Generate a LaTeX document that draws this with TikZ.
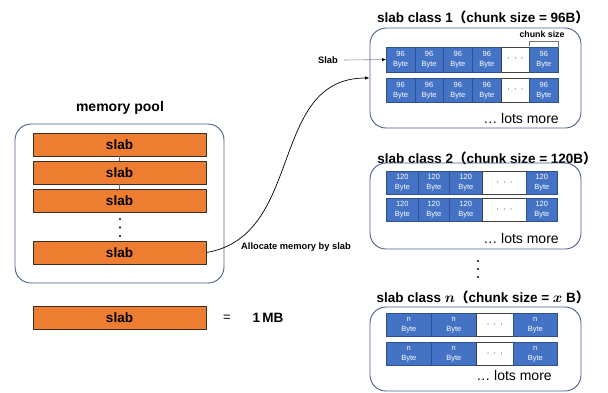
\documentclass[tikz,border=0pt]{standalone}
\usepackage{fontspec}
\setmainfont{Liberation Sans}
\newfontfamily\cjk{Noto Sans CJK SC}
\usetikzlibrary{arrows.meta}
\definecolor{boxline}{RGB}{74,96,138}
\definecolor{slaborange}{RGB}{237,125,49}
\definecolor{slabedge}{RGB}{60,45,35}
\definecolor{cellblue}{RGB}{68,114,196}
\definecolor{celledge}{RGB}{47,82,143}
\tikzset{
  groupbox/.style={draw=boxline, line width=0.9pt, rounded corners=16pt, inner sep=0pt},
  slabbox/.style={draw=slabedge, fill=slaborange, line width=0.8pt, minimum width=173pt, minimum height=23pt, inner sep=0pt, font=\fontsize{13.5}{14}\selectfont\bfseries},
  cellb/.style={draw=celledge, fill=cellblue, line width=0.6pt, text=white, align=center, inner sep=0pt, anchor=north west, font=\fontsize{7.5}{10}\selectfont},
  cellw/.style={draw=black!75, fill=white, line width=0.8pt, align=center, inner sep=0pt, anchor=north west, font=\fontsize{7.5}{10}\selectfont},
  title/.style={font=\fontsize{13.5}{15}\selectfont\bfseries, inner sep=0pt},
  more/.style={font=\fontsize{14}{15}\selectfont, inner sep=0pt},
  small/.style={font=\fontsize{9.3}{10}\selectfont\bfseries, inner sep=0pt},
  dotmark/.style={fill=black, circle, inner sep=0pt, minimum size=2.2pt},
}
\begin{document}
\begin{tikzpicture}[x=1pt, y=-1pt]
\useasboundingbox (0,0) rectangle (608,392);

% memory pool
\node[title, font=\fontsize{14}{15}\selectfont\bfseries] (pooltitle) at (120,108) {memory pool};
\node[groupbox, minimum width=209pt, minimum height=159pt] (pool) at (119.5,203.5) {};
\node[slabbox] (s1) at (119.5,144.5) {slab};
\node[slabbox] (s2) at (119.5,172.5) {slab};
\node[slabbox] (s3) at (119.5,200.5) {slab};
\node[slabbox] (s4) at (119.5,252.5) {slab};
\draw[black!60, line width=0.6pt] (s1.south) -- (s2.north);
\draw[black!60, line width=0.6pt] (s2.south) -- (s3.north);
\node[dotmark] (pd1) at (120,219) {};
\node[dotmark] (pd2) at (120,227.5) {};
\node[dotmark] (pd3) at (120,236) {};

% legend
\node[slabbox] (s5) at (119.5,317.5) {slab};
\node[font=\fontsize{13}{14}\selectfont, inner sep=0pt] (eq) at (227,318) {=};
\node[font=\fontsize{13.5}{14}\selectfont\bfseries, inner sep=0pt] (mb) at (268,318) {1\,MB};

% slab class 1
\node[title] (t1) at (483,17) {slab class 1{\cjk （}chunk size = 96B{\cjk ）}};
\node[groupbox, minimum width=211pt, minimum height=100pt] (b1) at (475.5,78) {};
\foreach \x/\w/\s/\t [count=\i] in {386/28.5/cellb/{96\\Byte},414.5/28.5/cellb/{96\\Byte},443/29/cellb/{96\\Byte},472/29/cellb/{96\\Byte},501/28/cellw/{·\ \ ·\ \ ·},529/29/cellb/{96\\Byte}}{
  \node[\s, minimum width=\w pt, minimum height=24.5pt] (a1c\i) at (\x,47) {\t};
  \node[\s, minimum width=\w pt, minimum height=24pt] (a2c\i) at (\x,78) {\t};
}
\node[small] (slablbl) at (328,60) {Slab};
\draw[black!45, line width=0.6pt, -{Latex[length=4pt, width=3.5pt, black]}] (slablbl.east) ++(6,0) -- (a1c1.west);
\node[small, font=\fontsize{8.8}{10}\selectfont\bfseries] (cs) at (542,34) {chunk size};
\draw[black!55, line width=0.7pt] (a1c6.north west) ++(0,-1) -- ++(0,-5) -| ([yshift=-1pt]a1c6.north east);
\draw[black!55, line width=0.7pt] ([yshift=-6pt]a1c6.north) -- ++(0,-3);
\node[more] (m1) at (521,118) {… lots more};

% slab class 2
\node[title] (t2) at (487,158) {slab class 2{\cjk （}chunk size = 120B{\cjk ）}};
\node[groupbox, minimum width=211pt, minimum height=86pt] (b2) at (475.5,206) {};
\foreach \x/\w/\s/\t [count=\i] in {386/32/cellb/{120\\Byte},418/31/cellb/{120\\Byte},449/33/cellb/{120\\Byte},482/44/cellw/{·\ \ ·\ \ ·},526/31/cellb/{120\\Byte}}{
  \node[\s, minimum width=\w pt, minimum height=23pt] (b1c\i) at (\x,171) {\t};
  \node[\s, minimum width=\w pt, minimum height=23pt] (b2c\i) at (\x,198) {\t};
}
\node[more] (m2) at (521,238) {… lots more};

% vertical dots
\node[dotmark] (vd1) at (478,261) {};
\node[dotmark] (vd2) at (478,269) {};
\node[dotmark] (vd3) at (478,277) {};

% slab class n
\node[title] (t3) at (483,297) {slab class {\boldmath$n$}{\cjk （}chunk size = {\boldmath$x$} B{\cjk ）}};
\node[groupbox, minimum width=211pt, minimum height=84pt] (b3) at (475.5,349) {};
\foreach \x/\w/\s/\t [count=\i] in {386/45/cellb/{n\\Byte},431/45/cellb/{n\\Byte},476/37/cellw/{·\ \ ·\ \ ·},513/44/cellb/{n\\Byte}}{
  \node[\s, minimum width=\w pt, minimum height=23pt] (n1c\i) at (\x,313) {\t};
  \node[\s, minimum width=\w pt, minimum height=23pt] (n2c\i) at (\x,342) {\t};
}
\node[more] (m3) at (514,375) {… lots more};

% allocation curve
\draw[line width=0.7pt, -{Latex[length=4.5pt, width=3.5pt]}] (s4.east) .. controls (305,236) and (268,78) .. (b1.west);
\node[small] (alloc) at (296,247) {Allocate memory by slab};
\end{tikzpicture}
\end{document}
